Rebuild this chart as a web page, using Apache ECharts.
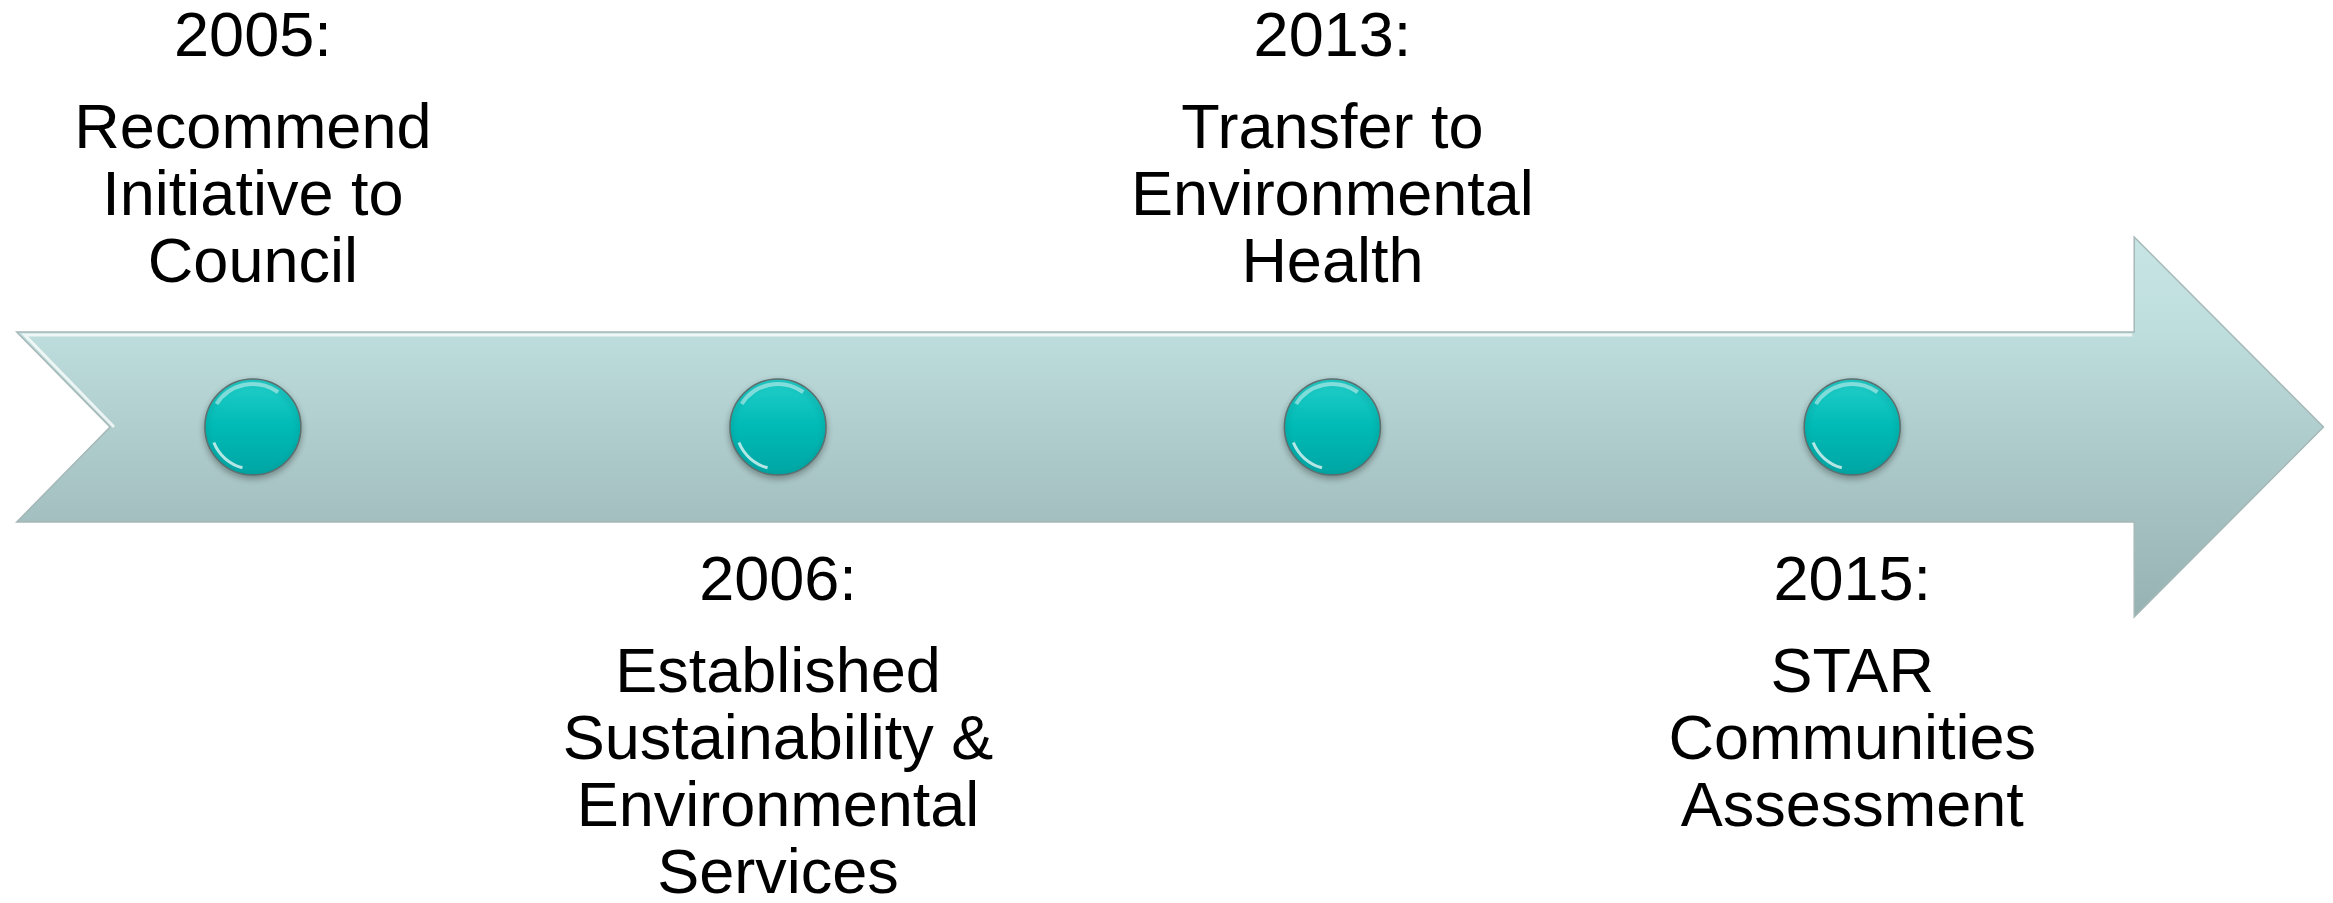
<!DOCTYPE html>
<html>
<head>
<meta charset="utf-8">
<style>
  html, body { margin: 0; padding: 0; background: #fff; }
  #chart { width: 2333px; height: 903px; }
</style>
<script src="https://cdn.jsdelivr.net/npm/echarts@6/dist/echarts.min.js"></script>
</head>
<body>
<div id="chart"></div>
<script>
'use strict';

// milestones, left to right
var years = ['2005:', '2006:', '2013:', '2015:'];
var descriptions = [
  ['Recommend', 'Initiative to', 'Council'],
  ['Established', 'Sustainability &', 'Environmental', 'Services'],
  ['Transfer to', 'Environmental', 'Health'],
  ['STAR', 'Communities', 'Assessment']
];
var sides = ['top', 'bottom', 'top', 'bottom'];
// position of each dot along the arrow (milestone slots)
var slots = [0, 0.985, 2.025, 3];

// arrow outline in axis units
var tailX = -0.443;
var notchX = -0.268;
var headX = 3.529;
var tipX = 3.884;
var bodyHalf = 0.2225;
var headHalf = 0.445;

var FONT = '"Liberation Sans", Arial, sans-serif';
var FONT_SIZE = 63;
var LINE_H = 67;
var YEAR_GAP = 92;
var NUDGE = 5; //canvas 'middle' sits a bit above the cap centre

var chart = echarts.init(document.getElementById('chart'), null, { renderer: 'canvas' });

function renderArrow(params, api) {
  var shape = [
    [tailX, bodyHalf], [headX, bodyHalf], [headX, headHalf], [tipX, 0],
    [headX, -headHalf], [headX, -bodyHalf], [tailX, -bodyHalf], [notchX, 0]
  ];
  var pts = shape.map(function(p) { return api.coord(p); });
  var a = api.coord([notchX, 0]);
  var b = api.coord([tailX, bodyHalf]);
  var c = api.coord([headX, bodyHalf]);
  return {
    type: 'group',
    children: [
      {
        type: 'polygon',
        shape: { points: pts },
        style: {
          fill: new echarts.graphic.LinearGradient(0, 0, 0, 1, [
            { offset: 0, color: '#c8e5e5' },
            { offset: 0.25, color: '#bedddd' },
            { offset: 0.75, color: '#a3bfbf' },
            { offset: 1, color: '#96b2b2' }
          ]),
          stroke: '#a6b8b8',
          lineWidth: 1.5
        }
      },
      {
        //light rim along the top and the tail notch
        type: 'polyline',
        shape: { points: [[a[0] + 4, a[1]], [b[0] + 8, b[1] + 3], [c[0] - 2, c[1] + 3]] },
        style: { stroke: 'rgba(255,255,255,0.75)', lineWidth: 3, fill: null }
      }
    ]
  };
}

function renderDot(params, api) {
  var p = api.coord([api.value(0), api.value(1)]);
  var r = 48;
  return {
    type: 'group',
    children: [
      {
        type: 'circle',
        shape: { cx: p[0], cy: p[1], r: r },
        style: {
          fill: new echarts.graphic.LinearGradient(0, 0, 0, 1, [
            { offset: 0, color: '#22cec9' },
            { offset: 0.5, color: '#00bab5' },
            { offset: 1, color: '#00a5a3' }
          ]),
          stroke: '#5c6e6e',
          lineWidth: 1.5,
          shadowBlur: 6,
          shadowOffsetY: 3,
          shadowColor: 'rgba(0,0,0,0.3)'
        }
      },
      {
        type: 'arc',
        shape: { cx: p[0], cy: p[1], r: r - 5, startAngle: -Math.PI * 0.82, endAngle: -Math.PI * 0.3 },
        style: { stroke: 'rgba(255,255,255,0.45)', lineWidth: 4, fill: null }
      },
      {
        type: 'arc',
        shape: { cx: p[0], cy: p[1], r: r - 6, startAngle: Math.PI * 0.58, endAngle: Math.PI * 0.88 },
        style: { stroke: 'rgba(255,255,255,0.7)', lineWidth: 3, fill: null }
      }
    ]
  };
}

function renderLabel(params, api) {
  var i = params.dataIndex;
  var p = api.coord([api.value(0), 0]);
  var lines = descriptions[i];
  var yearY, firstY;
  if (sides[i] === 'top') {
    firstY = p[1] - 167 - (lines.length - 1) * LINE_H;
    yearY = firstY - YEAR_GAP;
  } else {
    yearY = p[1] + 151;
    firstY = yearY + YEAR_GAP;
  }
  var base = { font: FONT_SIZE + 'px ' + FONT, fill: '#000', align: 'center', verticalAlign: 'middle' };
  var children = [
    { type: 'text', x: p[0], y: yearY + NUDGE, style: Object.assign({ text: years[i] }, base) }
  ];
  lines.forEach(function(t, k) {
    children.push({
      type: 'text', x: p[0], y: firstY + k * LINE_H + NUDGE,
      style: Object.assign({ text: t }, base)
    });
  });
  return { type: 'group', children: children };
}

var option = {
  animation: false,
  backgroundColor: '#ffffff',
  grid: { left: 13, right: 1, top: 0, bottom: 49 },
  xAxis: { type: 'value', min: -0.45, max: 3.9, show: false },
  yAxis: { type: 'value', min: -1, max: 1, show: false },
  series: [
    {
      type: 'custom',
      silent: true,
      renderItem: renderArrow,
      data: [[0, 0]],
      z: 1
    },
    {
      type: 'custom',
      silent: true,
      renderItem: renderDot,
      data: slots.map(function(s) { return [s, 0]; }),
      z: 2
    },
    {
      type: 'custom',
      silent: true,
      renderItem: renderLabel,
      data: slots.map(function(s) { return [s, 0]; }),
      z: 3
    }
  ]
};

chart.setOption(option);
</script>
</body>
</html>
